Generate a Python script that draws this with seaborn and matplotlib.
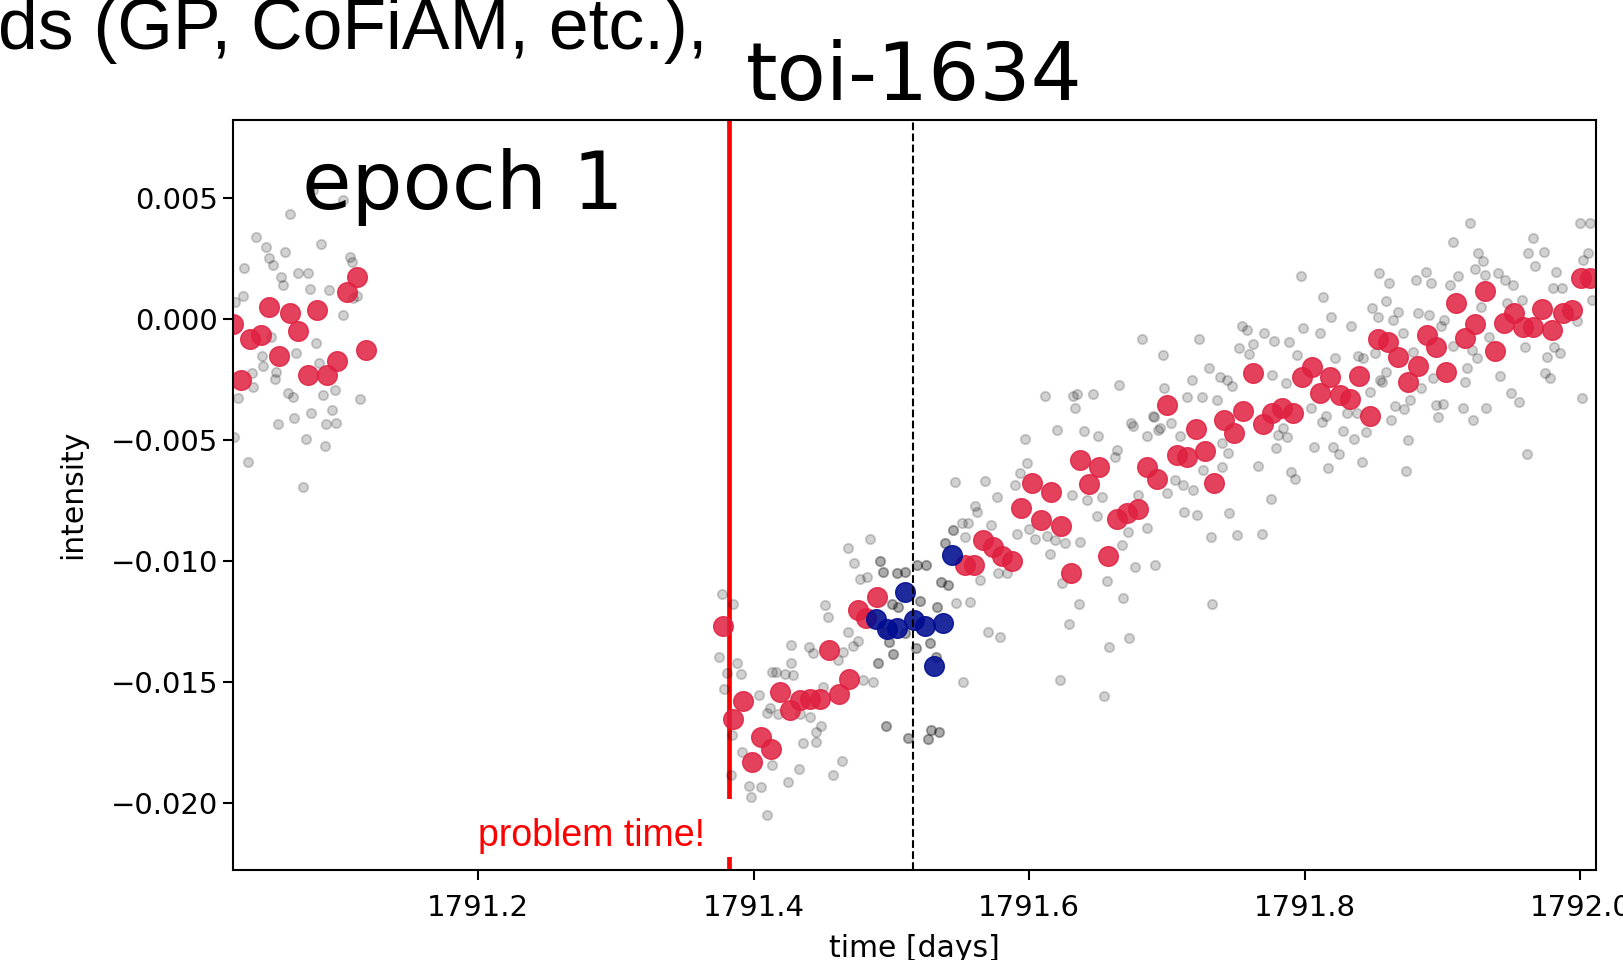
import matplotlib
matplotlib.use("Agg")
from matplotlib import pyplot as plt
from matplotlib.patches import Rectangle
import seaborn as sns
import pandas as pd

sns.set_style("ticks")
plt.rcParams['font.family'] = ['DejaVu Sans']
plt.rcParams['text.color'] = 'black'
plt.rcParams['axes.labelcolor'] = 'black'
plt.rcParams['xtick.color'] = 'black'
plt.rcParams['ytick.color'] = 'black'

# raw photometry (light grey)
gray_time = [
    1791.1022, 1791.0635, 1791.0388, 1791.0858, 1791.0459, 1791.0599, 1791.0485, 1791.0510, 1791.0301, 1791.0570,
    1791.0587, 1791.0695, 1791.0764, 1791.0780, 1791.0920, 1791.1071, 1791.1083, 1791.0292, 1791.0236, 1791.1018,
    1791.1095, 1791.1122, 1791.0822, 1791.0679, 1791.0430, 1791.0441, 1791.0369, 1791.0533, 1791.0526, 1791.0623,
    1791.0655, 1791.0848, 1791.0962, 1791.0877, 1791.1143, 1791.0785, 1791.0942, 1791.0664, 1791.0550, 1791.0894,
    1791.0969, 1791.0229, 1791.0749, 1791.0889, 1791.0332, 1791.0732, 1791.0497, 1791.0361, 1791.0260, 1791.0804,
    1791.3769, 1791.3853, 1791.3751, 1791.3877, 1791.3805, 1791.3906, 1791.3785, 1791.3841, 1791.3914, 1791.3834,
    1791.3969, 1791.4054, 1791.3981, 1791.4095, 1791.4131, 1791.4252, 1791.4332, 1791.4361, 1791.4453, 1791.4453,
    1791.4489, 1791.4639, 1791.4578, 1791.4041, 1791.4131, 1791.4163, 1791.4228, 1791.4288, 1791.4269, 1791.4271,
    1791.4095, 1791.4119, 1791.4179, 1791.4337, 1791.4409, 1791.4506, 1791.4404, 1791.4429, 1791.4518, 1791.4542,
    1791.4615, 1791.4651, 1791.4687, 1791.4724, 1791.4756, 1791.4796, 1791.4869, 1791.4729, 1791.4687, 1791.4845,
    1791.4772, 1791.4821,
    1791.6115, 1791.6320, 1791.6349, 1791.6461, 1791.6332, 1791.6654, 1791.6204, 1791.6400, 1791.6497, 1791.6737,
    1791.6756, 1791.6857, 1791.6937, 1791.6901, 1791.5970, 1791.5986, 1791.5933, 1791.5897, 1791.6635, 1791.6623,
    1791.5462, 1791.5679, 1791.5764, 1791.5607, 1791.5623, 1791.6308, 1791.6417, 1791.6531, 1791.6787, 1791.6998,
    1791.6490, 1791.6853, 1791.6671, 1791.6719, 1791.5721, 1791.5914, 1791.6001, 1791.6042, 1791.6127, 1791.6187,
    1791.6260, 1791.6369, 1791.6151, 1791.5510, 1791.5558, 1791.5534, 1791.5643, 1791.5776, 1791.5837, 1791.6236,
    1791.6567, 1791.6768, 1791.6913, 1791.6679, 1791.6364, 1791.5469, 1791.5570, 1791.6291, 1791.5703, 1791.5788,
    1791.6581, 1791.6726, 1791.5517, 1791.6224, 1791.6545,
    1791.8134, 1791.8188, 1791.7989, 1791.8333, 1791.8486, 1791.8110, 1791.7542, 1791.7578, 1791.7706, 1791.7777,
    1791.7888, 1791.7234, 1791.7525, 1791.7626, 1791.7597, 1791.6969, 1791.7941, 1791.8219, 1791.8388, 1791.8425,
    1791.7307, 1791.7385, 1791.7433, 1791.7470, 1791.7179, 1791.7760, 1791.7864, 1791.6980, 1791.7143, 1791.7252,
    1791.7361, 1791.8473, 1791.8546, 1791.8043, 1791.8308, 1791.8377, 1791.8154, 1791.8123, 1791.6906, 1791.7027,
    1791.6949, 1791.7844, 1791.7873, 1791.7808, 1791.8279, 1791.8357, 1791.8444, 1791.7094, 1791.7397, 1791.7791,
    1791.8069, 1791.8207, 1791.8250, 1791.7445, 1791.8413, 1791.7663, 1791.7900, 1791.7929, 1791.8171, 1791.7263,
    1791.7397, 1791.7058, 1791.7114, 1791.7191, 1791.7753, 1791.7123, 1791.7216, 1791.7452, 1791.7319, 1791.7506,
    1791.7687, 1791.7970, 1791.6816, 1791.7325,
    1791.9199, 1791.9997, 1792.0070, 1791.9073, 1791.9654, 1791.9622, 1791.9738, 1791.9671, 1791.9259, 1791.9295,
    1791.9235, 1791.8541, 1791.8880, 1791.8613, 1791.8807, 1791.8916, 1791.9114, 1791.9054, 1791.9308, 1791.9404,
    1791.9453, 1791.9513, 1791.9821, 1791.9799, 1791.9864, 1792.0057, 1792.0021, 1791.8589, 1791.8678, 1791.8824,
    1791.8904, 1791.8638, 1791.8533, 1791.9010, 1791.8986, 1791.8711, 1791.9277, 1791.9465, 1791.9574, 1792.0082,
    1791.9978, 1791.8509, 1791.8787, 1791.9339, 1791.9211, 1791.9252, 1791.9073, 1791.9598, 1791.9808, 1791.9852,
    1791.9756, 1791.8589, 1791.8558, 1791.8928, 1791.9175, 1791.9163, 1791.9417, 1791.9743, 1791.9779, 1791.8841,
    1791.8763, 1791.8655, 1791.8720, 1791.8952, 1791.9005, 1791.8969, 1791.9150, 1791.9315, 1791.9223, 1791.9496,
    1791.9557, 1792.0014, 1791.8623, 1791.8751, 1791.8734, 1791.9615,
]
gray_flux = [
    0.00494, 0.00435, 0.00342, 0.00312, 0.00298, 0.00278, 0.00253, 0.00225, 0.00212, 0.00177,
    0.00143, 0.00191, 0.00191, 0.00125, 0.00122, 0.00259, 0.00239, 0.00098, 0.00074, 0.00019,
    0.00088, 0.00097, -0.00098, -0.00137, -0.00150, -0.00192, -0.00280, -0.00216, -0.00247, -0.00305,
    -0.00321, -0.00181, -0.00291, -0.00312, -0.00330, -0.00385, -0.00374, -0.00406, -0.00433, -0.00433,
    -0.00429, -0.00484, -0.00495, -0.00523, -0.00588, -0.00691, -0.00071, -0.00220, -0.00326, 0.00535,
    -0.01134, -0.01176, -0.01393, -0.01421, -0.01460, -0.01465, -0.01528, -0.01717, -0.01786, -0.01882,
    -0.01926, -0.01933, -0.01974, -0.02046, -0.01841, -0.01910, -0.01859, -0.01749, -0.01745, -0.01703,
    -0.01680, -0.01823, -0.01882, -0.01552, -0.01455, -0.01455, -0.01465, -0.01469, -0.01418, -0.01345,
    -0.01627, -0.01607, -0.01630, -0.01630, -0.01641, -0.01517, -0.01352, -0.01377, -0.01180, -0.01228,
    -0.01407, -0.01373, -0.01290, -0.01349, -0.01327, -0.01490, -0.01499, -0.01007, -0.00945, -0.00907,
    -0.01074, -0.01065,
    -0.00316, -0.00316, -0.00308, -0.00308, -0.00367, -0.00271, -0.00457, -0.00461, -0.00481, -0.00426,
    -0.00440, -0.00481, -0.00457, -0.00399, -0.00495, -0.00594, -0.00633, -0.00684, -0.00539, -0.00569,
    -0.00670, -0.00666, -0.00732, -0.00771, -0.00794, -0.00725, -0.00746, -0.00732, -0.00725, -0.00718,
    -0.00812, -0.00863, -0.00932, -0.00877, -0.00849, -0.00886, -0.00867, -0.00908, -0.00895, -0.00911,
    -0.00922, -0.00918, -0.00969, -0.00842, -0.00842, -0.00900, -0.01076, -0.01049, -0.01049, -0.01088,
    -0.01081, -0.01021, -0.01014, -0.01152, -0.01176, -0.01173, -0.01166, -0.01258, -0.01293, -0.01311,
    -0.01352, -0.01317, -0.01497, -0.01490, -0.01555,
    0.00094, 0.00009, -0.00036, -0.00027, 0.00046, -0.00055, -0.00027, -0.00043, -0.00057, -0.00089,
    -0.00094, -0.00081, -0.00119, -0.00102, -0.00143, -0.00147, -0.00147, -0.00160, -0.00151, -0.00160,
    -0.00202, -0.00236, -0.00250, -0.00275, -0.00250, -0.00229, -0.00264, -0.00284, -0.00319, -0.00319,
    -0.00333, -0.00298, -0.00250, -0.00367, -0.00385, -0.00385, -0.00399, -0.00422, -0.00402, -0.00429,
    -0.00450, -0.00450, -0.00484, -0.00477, -0.00459, -0.00495, -0.00464, -0.00481, -0.00512, -0.00532,
    -0.00526, -0.00526, -0.00556, -0.00550, -0.00588, -0.00605, -0.00629, -0.00660, -0.00615, -0.00622,
    -0.00611, -0.00663, -0.00684, -0.00705, -0.00743, -0.00794, -0.00808, -0.00801, -0.00898, -0.00890,
    -0.00886, 0.00180, -0.00082, -0.01175,
    0.00400, 0.00400, 0.00398, 0.00321, 0.00336, 0.00274, 0.00278, 0.00222, 0.00274, 0.00242,
    0.00209, 0.00191, 0.00198, 0.00152, 0.00163, 0.00150, 0.00181, 0.00143, 0.00184, 0.00193,
    0.00163, 0.00143, 0.00198, 0.00129, 0.00129, 0.00274, 0.00246, 0.00078, 0.00032, 0.00026,
    0.00019, -0.00002, 0.00012, -0.00002, -0.00027, -0.00055, 0.00053, 0.00069, 0.00081, 0.00081,
    -0.00005, -0.00140, -0.00133, -0.00071, -0.00126, -0.00160, -0.00110, -0.00112, -0.00112, -0.00137,
    -0.00154, -0.00218, -0.00257, -0.00243, -0.00202, -0.00257, -0.00233, -0.00220, -0.00243, -0.00284,
    -0.00333, -0.00357, -0.00371, -0.00353, -0.00349, -0.00402, -0.00367, -0.00367, -0.00415, -0.00302,
    -0.00340, -0.00326, -0.00415, -0.00498, -0.00625, -0.00556,
]

# raw photometry inside the window (darker grey)
dark_time = [
    1791.4917, 1791.4941, 1791.5038, 1791.5099, 1791.5184, 1791.5251, 1791.5002, 1791.5050, 1791.5208, 1791.4985,
    1791.5009, 1791.4905, 1791.5179, 1791.5280, 1791.5333, 1791.5358, 1791.5413, 1791.5449, 1791.4961, 1791.5123,
    1791.5268, 1791.5285, 1791.5348, 1791.5324, 1791.5099, 1791.4954, 1791.5389,
]
dark_flux = [
    -0.00997, -0.01042, -0.01049, -0.01042, -0.01014, -0.01014, -0.01176, -0.01189, -0.01162, -0.01331,
    -0.01382, -0.01421, -0.01359, -0.01336, -0.01189, -0.01083, -0.01097, -0.00870, -0.01680, -0.01731,
    -0.01735, -0.01696, -0.01706, -0.01393, -0.01297, -0.01290, -0.00925,
]

# binned points (red)
binned_time = [
    1791.0222, 1791.0280, 1791.0345, 1791.0425, 1791.0485, 1791.0556, 1791.0632, 1791.0696, 1791.0763, 1791.0832,
    1791.0904, 1791.0975, 1791.1049, 1791.1122, 1791.1189,
    1791.3780, 1791.3848, 1791.3921, 1791.3985, 1791.4054, 1791.4126, 1791.4194, 1791.4262, 1791.4337, 1791.4407,
    1791.4482, 1791.4549, 1791.4618, 1791.4690, 1791.4760, 1791.4816, 1791.4893,
    1791.5531, 1791.5599, 1791.5663, 1791.5735, 1791.5800, 1791.5873, 1791.5942, 1791.6018, 1791.6082, 1791.6158,
    1791.6229, 1791.6301, 1791.6369, 1791.6434, 1791.6507, 1791.6574, 1791.6639, 1791.6712, 1791.6787, 1791.6857,
    1791.6930, 1791.7000, 1791.7070, 1791.7143, 1791.7210, 1791.7276, 1791.7343, 1791.7414, 1791.7486, 1791.7554,
    1791.7626, 1791.7695, 1791.7760, 1791.7832, 1791.7912, 1791.7978, 1791.8050, 1791.8110, 1791.8183, 1791.8255,
    1791.8328, 1791.8396, 1791.8470, 1791.8530, 1791.8606, 1791.8678, 1791.8751, 1791.8824, 1791.8885, 1791.8952,
    1791.9025, 1791.9097, 1791.9163, 1791.9235, 1791.9308, 1791.9380, 1791.9446, 1791.9518, 1791.9586, 1791.9654,
    1791.9724, 1791.9796, 1791.9872, 1791.9937, 1792.0002, 1792.0070,
]
binned_flux = [
    -0.000186, -0.002500, -0.000818, -0.000661, 0.000529, -0.001488, 0.000248, -0.000496, -0.002293, 0.000393,
    -0.002293, -0.001715, 0.001116, 0.001769, -0.001240,
    -0.012665, -0.016508, -0.015777, -0.018273, -0.017240, -0.017760, -0.015413, -0.016157, -0.015723, -0.015690,
    -0.015694, -0.013640, -0.015496, -0.014876, -0.011988, -0.012347, -0.011467,
    -0.010145, -0.010145, -0.009132, -0.009388, -0.009773, -0.009992, -0.007789, -0.006744, -0.008285, -0.007116,
    -0.008533, -0.010463, -0.005806, -0.006798, -0.006083, -0.009773, -0.008256, -0.007983, -0.007843, -0.006107,
    -0.006591, -0.003533, -0.005599, -0.005694, -0.004525, -0.005421, -0.006744, -0.004153, -0.004702, -0.003769,
    -0.002223, -0.004318, -0.003876, -0.003669, -0.003851, -0.002388, -0.001975, -0.003050, -0.002364, -0.003120,
    -0.003298, -0.002335, -0.003988, -0.000798, -0.000917, -0.001562, -0.002570, -0.001909, -0.000640, -0.001124,
    -0.002182, 0.000694, -0.000777, -0.000186, 0.001190, -0.001289, -0.000132, 0.000281, -0.000322, -0.000322,
    0.000421, -0.000434, 0.000281, 0.000393, 0.001702, 0.001702,
]

# binned points in the window (blue)
window_time = [1791.4888, 1791.4968, 1791.5041, 1791.5095, 1791.5166, 1791.5244, 1791.5311, 1791.5374, 1791.5438]
window_flux = [-0.012376, -0.012789, -0.012748, -0.011260, -0.012417, -0.012665, -0.014339, -0.012525, -0.009731]

problem_time = 1791.3821
mid_time = 1791.5153
x_ticks = [1791.2, 1791.4, 1791.6, 1791.8, 1792.0]
x_tick_labels = ['1791.2', '1791.4', '1791.6', '1791.8', '1792.0']
y_ticks = [0.005, 0.0, -0.005, -0.010, -0.015, -0.020]

fig = plt.figure(figsize=(16.24, 9.6), dpi=100)
ax = fig.add_axes([0.14317, 0.09375, 0.83959, 0.78177])

ax.axvline(problem_time, color='red', linewidth=3.4, zorder=0.5)

sns.scatterplot(x=gray_time, y=gray_flux, ax=ax, color='k', alpha=0.18, s=46,
                linewidth=1.3, edgecolor='k', legend=False)
sns.scatterplot(x=dark_time, y=dark_flux, ax=ax, color='k', alpha=0.33, s=46,
                linewidth=1.3, edgecolor='k', legend=False)
sns.scatterplot(x=binned_time, y=binned_flux, ax=ax, color='#e02040', alpha=0.85, s=200,
                linewidth=1.0, edgecolor='#e02040', legend=False)
sns.scatterplot(x=window_time, y=window_flux, ax=ax, color='#000c90', alpha=0.88, s=200,
                linewidth=1.0, edgecolor='#000c90', legend=False)

ax.axvline(mid_time, color='k', linestyle='--', linewidth=1.5, zorder=3)

ax.set_xlim(1791.0218, 1792.0113)
ax.set_ylim(-0.022748, 0.008264)
ax.set_xticks(x_ticks)
ax.set_xticklabels(x_tick_labels)
ax.set_yticks(y_ticks)
ax.tick_params(labelsize=21, length=7, width=1.5, colors='black')
ax.tick_params(axis='x', pad=10)
for side in ['top', 'bottom', 'left', 'right']:
    ax.spines[side].set_visible(True)
    ax.spines[side].set_linewidth(1.5)
    ax.spines[side].set_color('k')

ax.set_xlabel('time [days]', fontsize=21.5, labelpad=9)
ax.set_ylabel('intensity', fontsize=21.5, labelpad=17)
ax.set_title('toi-1634', fontsize=58, pad=14)
ax.text(0.0508, 0.8808, 'epoch 1', transform=ax.transAxes, fontsize=58, va='baseline')

# white box pasted over the bottom of the red line, with its label
fig.add_artist(Rectangle((0.28, 0.1073), 0.1775, 0.0604, transform=fig.transFigure,
                         facecolor='white', edgecolor='none', zorder=5))
fig.text(0.2943, 0.11875, 'problem time!', color='red', fontsize=27,
         family=['Liberation Sans'], va='baseline', zorder=6)

# leftover slide text at the top
fig.text(-0.001, 0.949, 'ds (GP, CoFiAM, etc.),', fontsize=51.5,
         family=['Liberation Sans'], va='baseline')

fig.savefig('out.png', dpi=100)
